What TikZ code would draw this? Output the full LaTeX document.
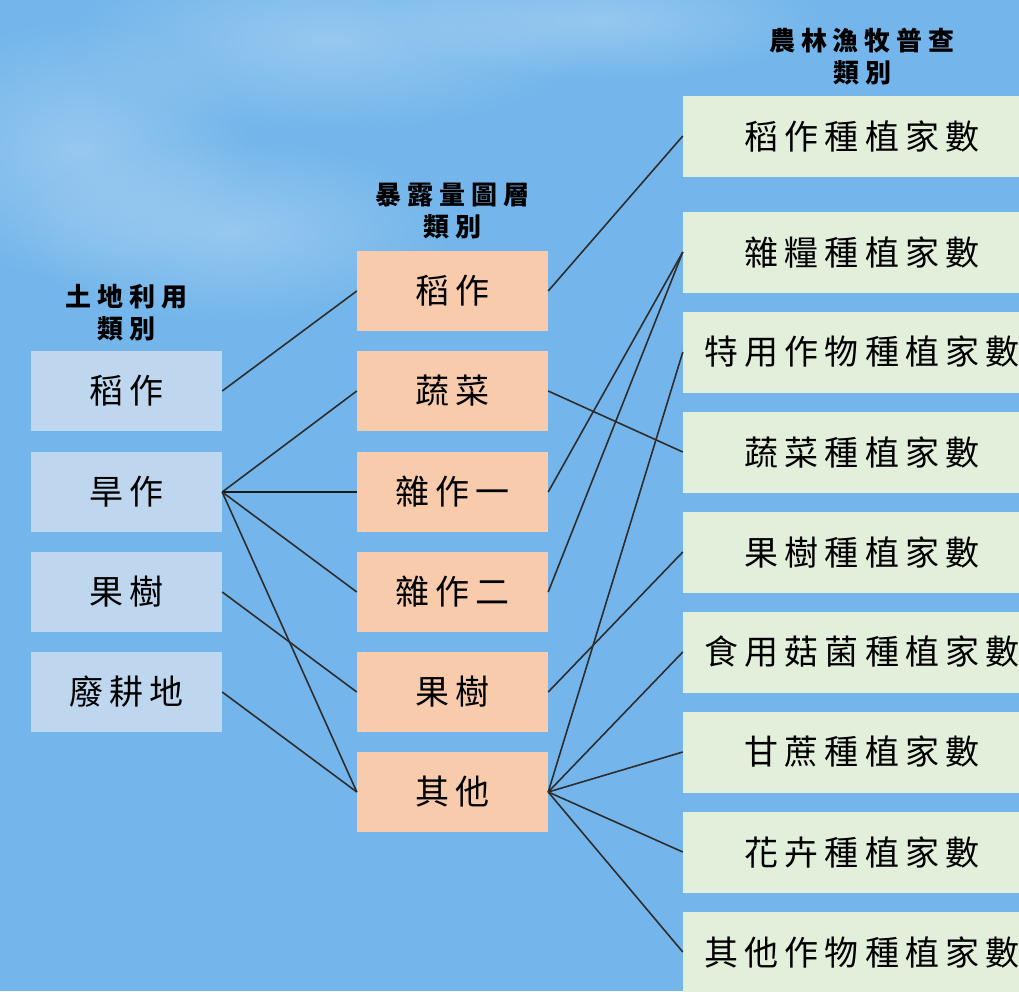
\documentclass[tikz,border=0pt]{standalone}
\usepackage{fontspec}
\usetikzlibrary{fadings}
\newfontfamily\cjkbox[LetterSpace=18]{Noto Sans CJK TC}
\newfontfamily\cjkhdr[LetterSpace=23]{Noto Sans CJK TC}
\definecolor{sky}{RGB}{116,182,235}
\definecolor{lbox}{RGB}{190,215,238}
\definecolor{mbox}{RGB}{247,203,172}
\definecolor{rbox}{RGB}{226,239,218}
\definecolor{wire}{RGB}{45,45,45}
\tikzfading[name=cloudfade, inner color=transparent!75, outer color=transparent!100]
\begin{document}
\begin{tikzpicture}[x=1pt,y=-1pt,
  box/.style={inner sep=0pt, minimum height=80pt, text=black,
    font={\cjkbox\fontsize{34}{38}\selectfont}},
  lcat/.style={box, fill=lbox, minimum width=191pt},
  mcat/.style={box, fill=mbox, minimum width=191pt},
  rcat/.style={box, fill=rbox, minimum width=358pt, minimum height=81pt},
  hdr/.style={align=center, text=black,
    font={\cjkhdr\bfseries\fontsize{26}{32}\selectfont}},
  link/.style={draw=wire, line width=1.6pt},
  strong/.style={draw=black!90, line width=2.4pt}]
\useasboundingbox (0,0) rectangle (1019,991);
\begin{scope}
\clip (0,0) rectangle (1019,991);
\fill[sky] (0,0) rectangle (1019,991);
% soft clouds
\fill[white, path fading=cloudfade] (330,40) ellipse (260 and 90);
\fill[white, path fading=cloudfade] (80,150) ellipse (170 and 130);
\fill[white, path fading=cloudfade] (600,20) ellipse (220 and 60);
\fill[white, path fading=cloudfade] (230,230) ellipse (220 and 90);

% headers
\node[hdr] (h1) at (126.5,313) {土地利用\\類別};
\node[hdr] (h2) at (452.5,211) {暴露量圖層\\類別};
\node[hdr] (h3) at (862,57) {農林漁牧普查\\類別};

% left column
\node[lcat] (l1) at (126.5,391) {稻作};
\node[lcat] (l2) at (126.5,492) {旱作};
\node[lcat] (l3) at (126.5,592) {果樹};
\node[lcat] (l4) at (126.5,692) {廢耕地};

% middle column
\node[mcat] (m1) at (452.5,291) {稻作};
\node[mcat] (m2) at (452.5,391) {蔬菜};
\node[mcat] (m3) at (452.5,492) {雜作一};
\node[mcat] (m4) at (452.5,592) {雜作二};
\node[mcat] (m5) at (452.5,692) {果樹};
\node[mcat] (m6) at (452.5,792) {其他};

% right column
\node[rcat] (r1) at (862,136) {稻作種植家數};
\node[rcat] (r2) at (862,252) {雜糧種植家數};
\node[rcat] (r3) at (862,352) {特用作物種植家數};
\node[rcat] (r4) at (862,452) {蔬菜種植家數};
\node[rcat] (r5) at (862,552) {果樹種植家數};
\node[rcat] (r6) at (862,652) {食用菇菌種植家數};
\node[rcat] (r7) at (862,752) {甘蔗種植家數};
\node[rcat] (r8) at (862,852) {花卉種植家數};
\node[rcat] (r9) at (862,952) {其他作物種植家數};

% left -> middle
\draw[link] (l1.east) -- (m1.west);
\draw[link] (l2.east) -- (m2.west);
\draw[strong] (l2.east) -- (m3.west);
\draw[link] (l2.east) -- (m4.west);
\draw[link] (l2.east) -- (m6.west);
\draw[link] (l3.east) -- (m5.west);
\draw[link] (l4.east) -- (m6.west);

% middle -> right
\draw[link] (m1.east) -- (r1.west);
\draw[link] (m2.east) -- (r4.west);
\draw[link] (m3.east) -- (r2.west);
\draw[link] (m4.east) -- (r2.west);
\draw[link] (m5.east) -- (r5.west);
\draw[link] (m6.east) -- (r3.west);
\draw[link] (m6.east) -- (r6.west);
\draw[link] (m6.east) -- (r7.west);
\draw[link] (m6.east) -- (r8.west);
\draw[link] (m6.east) -- (r9.west);
\end{scope}
\end{tikzpicture}
\end{document}
